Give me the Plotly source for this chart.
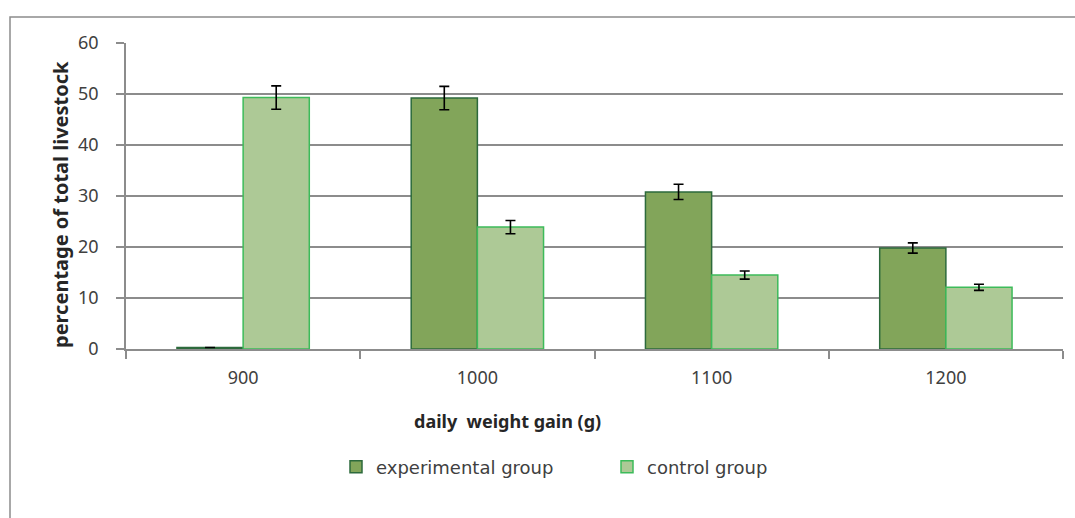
import plotly.graph_objects as go

categories = ["900", "1000", "1100", "1200"]
experimental = [0.3, 49.2, 30.8, 19.8]
experimental_err = [0, 2.3, 1.5, 1.0]
control = [49.3, 23.9, 14.5, 12.1]
control_err = [2.3, 1.3, 0.8, 0.6]
y_ticks = [0, 10, 20, 30, 40, 50, 60]

W, H = 1075, 518
L, R, T, B = 126, 1063, 43, 349


def px_x(x):
    return (x - L) / (R - L)


def px_y(y):
    return (B - y) / (B - T)


fig = go.Figure()
fig.add_trace(go.Bar(
    name="experimental group", x=categories, y=experimental,
    marker=dict(color="#82a55a", line=dict(color="#2d6a3c", width=1.5)),
    error_y=dict(type="data", array=experimental_err, color="black", thickness=1.6, width=5),
))
fig.add_trace(go.Bar(
    name="control group", x=categories, y=control,
    marker=dict(color="#adc996", line=dict(color="#3dbb5a", width=1.5)),
    error_y=dict(type="data", array=control_err, color="black", thickness=1.6, width=5),
))

font = "Noto Sans, Liberation Sans, sans-serif"
fig.update_layout(
    width=W, height=H,
    margin=dict(l=L, r=W - R, t=T, b=H - B, pad=0),
    paper_bgcolor="white", plot_bgcolor="white",
    barmode="group", bargap=0.435, bargroupgap=0,
    font=dict(family=font, size=18, color="#404040"),
    showlegend=True,
    legend=dict(orientation="h", x=px_x(336), xanchor="left",
                y=px_y(467), yanchor="middle",
                font=dict(family="DejaVu Sans, Noto Sans, sans-serif", size=18, color="#404040"),
                traceorder="normal",
                itemwidth=30, entrywidth=226, entrywidthmode="pixels"),
    xaxis=dict(
        type="category", tickson="boundaries", ticks="outside", ticklen=8,
        tickcolor="#8c8c8c", tickwidth=1.5, ticklabelstandoff=12,
        showline=True, linecolor="#8c8c8c", linewidth=1.5,
        showgrid=False, tickfont=dict(size=18, color="#404040"),
    ),
    yaxis=dict(
        range=[0, 60], tickvals=y_ticks, ticks="outside", ticklen=8,
        tickcolor="#8c8c8c", tickwidth=1.5, ticklabelstandoff=14,
        showline=True, linecolor="#8c8c8c", linewidth=1.5,
        showgrid=True, gridcolor="#8c8c8c", gridwidth=1.5,
        zeroline=False, tickfont=dict(size=18, color="#404040"),
    ),
    annotations=[
        dict(text="<b>daily  weight gain (g)</b>", xref="paper", yref="paper",
             x=px_x(507), y=px_y(421), xanchor="center", yanchor="middle",
             showarrow=False, font=dict(size=18, color="#262626")),
        dict(text="<b>percentage of total livestock</b>", xref="paper", yref="paper",
             x=px_x(60), y=px_y(205), xanchor="center", yanchor="middle",
             textangle=-90, showarrow=False, font=dict(size=20, color="#262626")),
    ],
)

# outer chart-area border
fig.add_shape(type="rect", xref="paper", yref="paper",
              x0=px_x(10), x1=px_x(1090), y0=px_y(530), y1=px_y(17),
              line=dict(color="#8c8c8c", width=1.5), fillcolor="rgba(0,0,0,0)", layer="below")

fig.write_html("out.html", config={"displayModeBar": False},
               post_script="document.body.style.margin='0';document.body.style.overflow='hidden';")
